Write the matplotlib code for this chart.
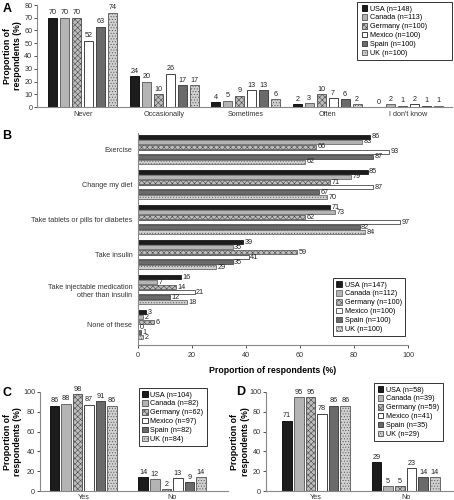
import numpy as np
import matplotlib
matplotlib.use("Agg")
from matplotlib import pyplot as plt
from matplotlib.patches import Rectangle

plt.rcParams['font.family'] = ['Liberation Sans', 'DejaVu Sans']
plt.rcParams['hatch.linewidth'] = 0.4

countries = ['USA', 'Canada', 'Germany', 'Mexico', 'Spain', 'UK']

# Panel A
a_cats = ['Never', 'Occasionally', 'Sometimes', 'Often', "I don't know"]
a_n = [148, 113, 100, 100, 100, 100]
a_vals = [
    [70, 24, 4, 2, 0],   # USA
    [70, 20, 5, 3, 2],   # Canada
    [70, 10, 9, 10, 1],  # Germany
    [52, 26, 13, 7, 2],  # Mexico
    [63, 17, 13, 6, 1],  # Spain
    [74, 17, 6, 2, 1],   # UK
]

# Panel B
b_cats = ['Exercise', 'Change my diet', 'Take tablets or pills for diabetes',
          'Take insulin', 'Take injectable medication\nother than insulin', 'None of these']
b_n = [147, 112, 100, 100, 100, 100]
b_vals = [
    [86, 85, 71, 39, 16, 3],
    [83, 79, 73, 35, 7, 2],
    [66, 71, 62, 59, 14, 6],
    [93, 87, 97, 41, 21, 0],
    [87, 67, 82, 35, 12, 1],
    [62, 70, 84, 29, 18, 2],
]

# Panel C
c_cats = ['Yes', 'No']
c_n = [104, 82, 62, 97, 82, 84]
c_vals = [[86, 14], [88, 12], [98, 2], [87, 13], [91, 9], [86, 14]]

# Panel D
d_cats = ['Yes', 'No']
d_n = [58, 39, 59, 41, 35, 29]
d_vals = [[71, 29], [95, 5], [95, 5], [78, 23], [86, 14], [86, 14]]

styles = [
    dict(facecolor='#1c1c1c', edgecolor='#000000'),
    dict(facecolor='#b4b4b4', edgecolor='#555555'),
    dict(facecolor='#bdbdbd', edgecolor='#4a4a4a', hatch='xxxxxx'),
    dict(facecolor='#ffffff', edgecolor='#222222'),
    dict(facecolor='#6a6a6a', edgecolor='#333333'),
    dict(facecolor='#d0d0d0', edgecolor='#555555', hatch='......'),
]

FS = 5.2
LFS = 6.3


def style_axes(ax):
    for s in ['top', 'right']:
        ax.spines[s].set_visible(False)
    for s in ['left', 'bottom']:
        ax.spines[s].set_color('#888888')
        ax.spines[s].set_linewidth(0.8)
    ax.tick_params(labelsize=FS, colors='#333333', length=2, width=0.6, pad=1.5)


def vbars(ax, cats, vals, step, width):
    x = np.arange(len(cats))
    for i, v in enumerate(vals):
        b = ax.bar(x + (i - 2.5) * step, v, width, linewidth=0.6, **styles[i])
        ax.bar_label(b, fontsize=FS, padding=1, color='#222222')
    ax.set_xticks(x)
    ax.set_xticklabels(cats)


def ylab(ax, xpos):
    # xpos is where the right edge of the label goes
    ax.set_ylabel('Proportion of\nrespondents (%)', fontsize=LFS, fontweight='bold')
    ax.yaxis.set_label_coords(xpos, 0.5)


def legend(ax, ns, **kw):
    labels = ['{} (n={})'.format(c, n) for c, n in zip(countries, ns)]
    lg = ax.legend(labels, fontsize=FS, handlelength=0.8, handleheight=0.8,
                   handletextpad=0.4, labelspacing=0.22, borderpad=0.45,
                   borderaxespad=0, fancybox=False, framealpha=1, **kw)
    lg.get_frame().set_edgecolor('#333333')
    lg.get_frame().set_linewidth(0.7)
    return lg


fig = plt.figure(figsize=(4.54, 5.0), dpi=100)

# A
axA = fig.add_axes([0.082, 0.786, 0.913, 0.204])
vbars(axA, a_cats, a_vals, 0.147, 0.11)
axA.set_xlim(-0.56, 4.53)
axA.set_ylim(0, 80)
axA.set_yticks(range(0, 81, 10))
style_axes(axA)
axA.tick_params(axis='x', length=0, pad=3)
ylab(axA, -0.036)
legend(axA, a_n, loc='upper left', bbox_to_anchor=(0.775, 1.029), frameon=False)
# legend box in A is wider than its text
fig.patches.append(Rectangle((0.786, 0.88), 0.209, 0.116, transform=fig.transFigure,
                             fill=False, edgecolor='#333333', linewidth=0.7))

# B
axB = fig.add_axes([0.304, 0.31, 0.595, 0.424])
y = np.arange(len(b_cats))
step = 0.143
for i, v in enumerate(b_vals):
    b = axB.barh(y + (i - 2.5) * step, v, step * 0.85, linewidth=0.5, **styles[i])
    axB.bar_label(b, fontsize=FS, padding=1, color='#222222')
axB.set_yticks(y)
axB.set_yticklabels(b_cats)
axB.set_ylim(5.58, -0.47)
axB.set_xlim(0, 100)
axB.set_xticks(range(0, 101, 20))
style_axes(axB)
axB.tick_params(axis='y', length=0, pad=4)
axB.tick_params(axis='x', pad=3)
axB.set_xlabel('Proportion of respondents (%)', fontsize=LFS, fontweight='bold', labelpad=5)
legend(axB, b_n, loc='lower right', bbox_to_anchor=(0.989, 0.042))

# C
axC = fig.add_axes([0.088, 0.018, 0.414, 0.198])
vbars(axC, c_cats, c_vals, 0.13, 0.107)
axC.set_xlim(-0.49, 1.63)
axC.set_ylim(0, 100)
axC.set_yticks(range(0, 101, 20))
style_axes(axC)
axC.tick_params(axis='x', length=0, pad=2)
ylab(axC, -0.096)
legend(axC, c_n, loc='upper right', bbox_to_anchor=(0.888, 1.04))

# D
axD = fig.add_axes([0.586, 0.018, 0.414, 0.198])
vbars(axD, d_cats, d_vals, 0.13, 0.107)
axD.set_xlim(-0.56, 1.54)
axD.set_ylim(0, 100)
axD.set_yticks(range(0, 101, 20))
style_axes(axD)
axD.tick_params(axis='x', length=0, pad=2)
ylab(axD, -0.088)
legend(axD, d_n, loc='upper right', bbox_to_anchor=(0.94, 1.09))

for lbl, (fx, fy) in zip('ABCD', [(0.005, 0.995), (0.005, 0.74), (0.005, 0.225), (0.52, 0.228)]):
    fig.text(fx, fy, lbl, fontsize=9, fontweight='bold', va='top', ha='left')

fig.savefig('out.png', dpi=100)
